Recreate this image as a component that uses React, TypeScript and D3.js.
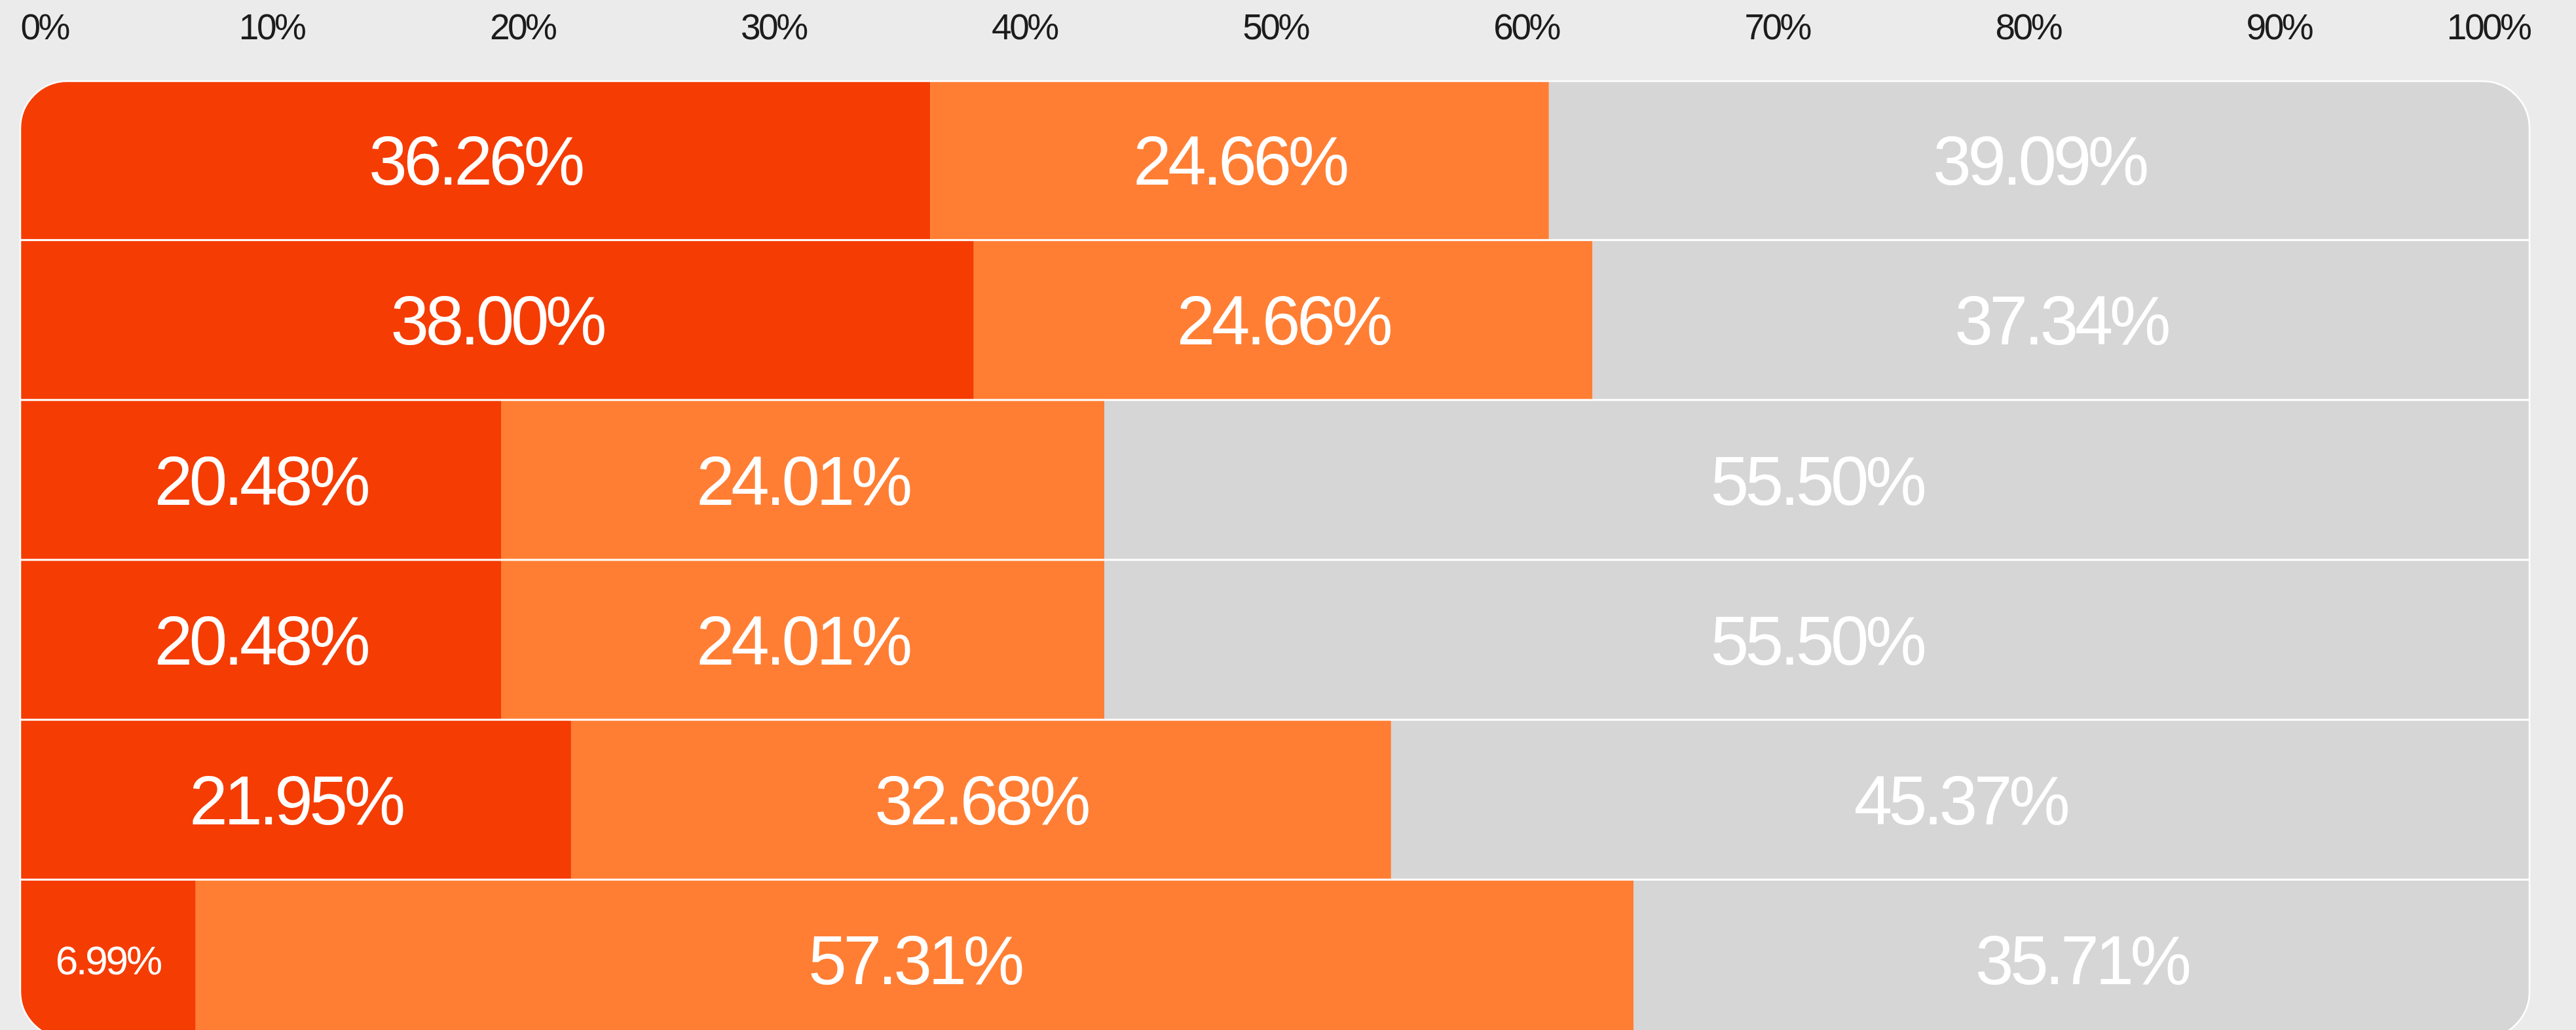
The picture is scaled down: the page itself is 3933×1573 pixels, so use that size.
import React, { useEffect, useRef } from 'react';
import * as d3 from 'd3';

const rowNames = ['r1', 'r2', 'r3', 'r4', 'r5', 'r6'];
// bar lengths as drawn
const firstShare = [36.26, 38.0, 19.16, 19.16, 21.95, 6.99];
const secondShare = [24.66, 24.66, 24.04, 24.04, 32.68, 57.31];
const thirdShare = [39.09, 37.34, 56.8, 56.8, 45.37, 35.71];
// labels as printed on the bars
const firstLabels = ['36.26%', '38.00%', '20.48%', '20.48%', '21.95%', '6.99%'];
const secondLabels = ['24.66%', '24.66%', '24.01%', '24.01%', '32.68%', '57.31%'];
const thirdLabels = ['39.09%', '37.34%', '55.50%', '55.50%', '45.37%', '35.71%'];
const seriesKeys = ['first', 'second', 'third'];
const seriesLabels = [firstLabels, secondLabels, thirdLabels];
const seriesColors = ['#F53C02', '#FF7E33', '#D6D6D6'];
const tickValues = [0, 10, 20, 30, 40, 50, 60, 70, 80, 90, 100];

const FONT = '"Liberation Sans", Arial, Helvetica, sans-serif';

const App: React.FC = () => {
    const ref = useRef<SVGSVGElement | null>(null);

    useEffect(() => {
        if (!ref.current) return;
        const svg = d3.select(ref.current);
        svg.selectAll('*').remove();

        const width = 3933;
        const height = 1573;
        const left = 31;
        const right = 3862;
        const top = 124;
        const bottom = 1586;

        svg.append('rect').attr('width', width).attr('height', height).attr('fill', '#EBEBEB');

        const table = rowNames.map((name, i) => ({
            name,
            index: i,
            first: firstShare[i],
            second: secondShare[i],
            third: thirdShare[i],
        }));

        const x = d3.scaleLinear().domain([0, 100]).range([left, right]);
        const y = d3.scaleBand<string>()
            .domain(rowNames)
            .range([top, bottom])
            .paddingInner(0.0125)
            .paddingOuter(0);

        const stacked = d3.stack<any>().keys(seriesKeys)(table);

        // percentage axis above the bars
        const axis = svg.append('g')
            .attr('transform', 'translate(0,60)')
            .call(d3.axisTop(x).tickValues(tickValues).tickSize(0).tickPadding(0).tickFormat(d => `${d}%`));
        axis.select('.domain').remove();
        axis.selectAll('text')
            .attr('font-family', FONT)
            .attr('font-size', 55)
            .attr('letter-spacing', '-3.5px')
            .attr('fill', '#1C1C1C')
            .attr('text-anchor', (d: any) => (d === 0 ? 'start' : d === 100 ? 'end' : 'middle'));

        const defs = svg.append('defs');
        defs.append('clipPath').attr('id', 'chart-clip')
            .append('rect')
            .attr('x', left).attr('y', top)
            .attr('width', right - left).attr('height', bottom - top)
            .attr('rx', 72).attr('ry', 72);

        const body = svg.append('g').attr('clip-path', 'url(#chart-clip)');
        body.append('rect')
            .attr('x', left).attr('y', top)
            .attr('width', right - left).attr('height', bottom - top)
            .attr('fill', '#FFFFFF');

        stacked.forEach((layer, li) => {
            body.append('g')
                .selectAll('rect')
                .data(layer)
                .enter().append('rect')
                .attr('x', d => x(d[0]))
                .attr('y', d => y(d.data.name) as number)
                .attr('width', d => x(d[1]) - x(d[0]))
                .attr('height', y.bandwidth())
                .attr('fill', seriesColors[li]);
        });

        stacked.forEach((layer, li) => {
            body.append('g')
                .selectAll('text')
                .data(layer)
                .enter().append('text')
                .each(function (d) {
                    const w = x(d[1]) - x(d[0]);
                    const size = w < 350 ? 62 : 105;
                    const cy = (y(d.data.name) as number) + y.bandwidth() / 2;
                    d3.select(this)
                        .attr('x', (x(d[0]) + x(d[1])) / 2)
                        .attr('y', cy + size * 0.358)
                        .attr('font-size', size)
                        .attr('letter-spacing', `${-size * 0.05}px`);
                })
                .attr('text-anchor', 'middle')
                .attr('font-family', FONT)
                .attr('fill', '#FFFFFF')
                .text(d => seriesLabels[li][d.data.index]);
        });

        svg.append('rect')
            .attr('x', left).attr('y', top)
            .attr('width', right - left).attr('height', bottom - top)
            .attr('rx', 72).attr('ry', 72)
            .attr('fill', 'none')
            .attr('stroke', '#FFFFFF')
            .attr('stroke-width', 2.5);
    }, []);

    return (
        <svg
            ref={ref}
            width={3933}
            height={1573}
            style={{ position: 'absolute', left: 0, top: 0, display: 'block' }}
        />
    );
};

export default App;
